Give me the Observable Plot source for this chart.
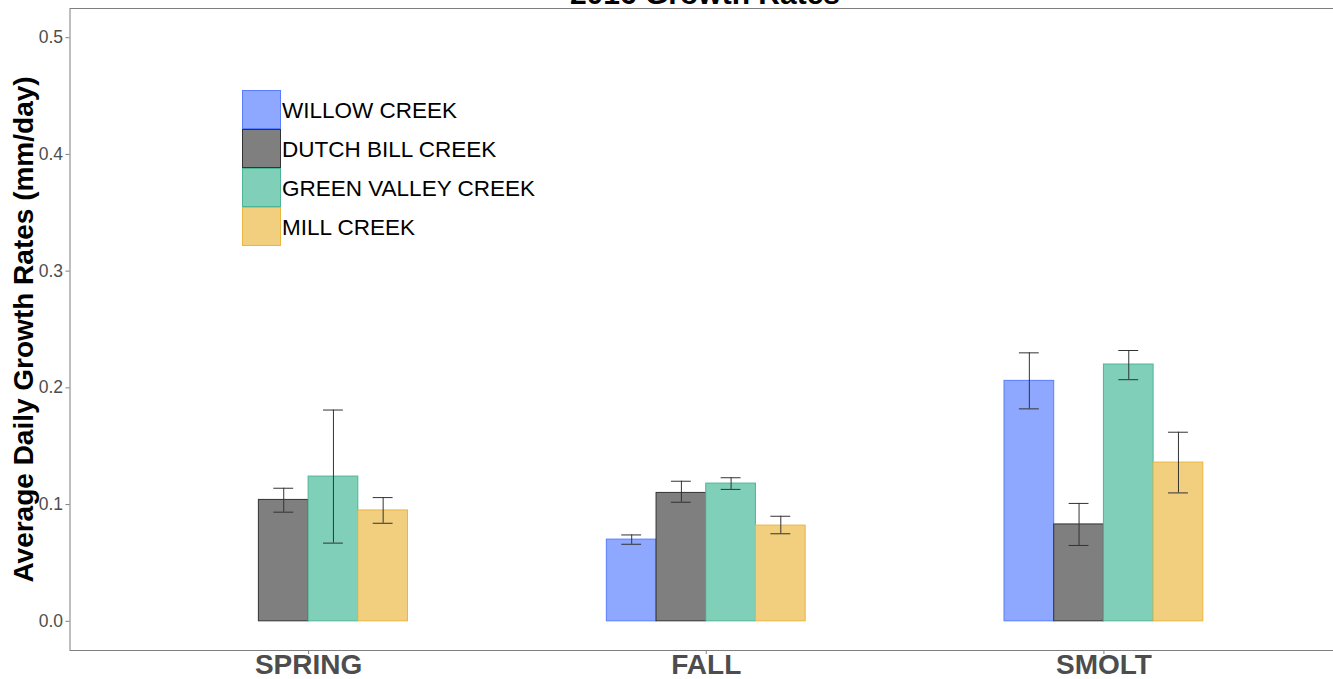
<!DOCTYPE html>
<html>
<head>
<meta charset="utf-8">
<script src="https://cdn.jsdelivr.net/npm/d3@7"></script>
<script src="https://cdn.jsdelivr.net/npm/@observablehq/plot@0.6"></script>
<style>
  html, body { margin: 0; padding: 0; background: white; overflow: hidden; }
  #wrap { position: relative; width: 1333px; height: 679px; overflow: hidden; font-family: 'Liberation Sans', Arial, sans-serif; }
  #wrap svg { max-width: none !important; position: absolute; left: 0; top: 0; }
  #title { position: absolute; left: 405px; width: 600px; top: -21px; line-height: 1; text-align: center; font-size: 30px; font-weight: bold; color: black; }
  #legend { position: absolute; left: 242px; top: 90px; }
  .row { display: flex; align-items: center; height: 39px; }
  .sw { width: 39px; height: 39px; box-sizing: border-box; border: 1px solid; flex: none; }
  .lab { margin-left: 1px; font-size: 22.5px; color: black; line-height: 39px; position: relative; top: 1px; }
</style>
</head>
<body>
<div id="wrap"></div>
<script>
// ---- data ----
const chartTitle = "2016 Growth Rates";
const yTitle = "Average Daily Growth Rates (mm/day)";
const seasons = ["SPRING", "FALL", "SMOLT"];
const creeks = ["WILLOW CREEK", "DUTCH BILL CREEK", "GREEN VALLEY CREEK", "MILL CREEK"];
const yTicks = [0, 0.1, 0.2, 0.3, 0.4, 0.5];

// means by season (SPRING, FALL, SMOLT)
const willowMean = [null, 0.070, 0.206];
const dutchMean  = [0.104, 0.110, 0.083];
const greenMean  = [0.124, 0.118, 0.220];
const millMean   = [0.095, 0.082, 0.136];

// error bar ends
const willowLo = [null, 0.066, 0.182];
const willowHi = [null, 0.074, 0.230];
const dutchLo  = [0.0935, 0.102, 0.065];
const dutchHi  = [0.114, 0.120, 0.101];
const greenLo  = [0.067, 0.113, 0.207];
const greenHi  = [0.181, 0.123, 0.232];
const millLo   = [0.084, 0.075, 0.110];
const millHi   = [0.106, 0.090, 0.162];

// ---- styles ----
const creekFill   = ["#8fa8ff", "#7f7f7f", "#80cfb9", "#f1cf7e"];
const creekStroke = ["#5a7dff", "#333333", "#4db596", "#ecb53c"];
const groupWidth = 0.5;   // dodge group width in category units (as ggplot width)
const capWidth = 0.05;    // error-bar cap width in category units

const means = [willowMean, dutchMean, greenMean, millMean];
const los = [willowLo, dutchLo, greenLo, millLo];
const his = [willowHi, dutchHi, greenHi, millHi];

const rows = [];
creeks.forEach((c, ci) => {
  seasons.forEach((s, si) => {
    if (means[ci][si] != null) {
      rows.push({season: s, creek: c, si: si + 1, ci, mean: means[ci][si], lo: los[ci][si], hi: his[ci][si]});
    }
  });
});

// position_dodge: each creek gets one slot of the season group
const slot = groupWidth / creeks.length;
const left = d => d.si - groupWidth / 2 + d.ci * slot;
const right = d => left(d) + slot;
const mid = d => left(d) + slot / 2;

const chart = Plot.plot({
  width: 1346,
  height: 679,
  marginLeft: 69.5,
  marginRight: 4,
  marginTop: 8,
  marginBottom: 29,
  style: {fontFamily: "'Liberation Sans', Arial, sans-serif", background: "white"},
  x: {type: "linear", domain: [0.4, seasons.length + 0.6]},
  y: {domain: [-0.025, 0.525]},
  marks: [
    Plot.rectY(rows, {x1: left, x2: right, y1: () => 0, y2: "mean",
      fill: d => creekFill[d.ci], stroke: d => creekStroke[d.ci], strokeWidth: 1}),
    Plot.ruleX(rows, {x: mid, y1: "lo", y2: "hi", stroke: "#333", strokeWidth: 1}),
    Plot.ruleY(rows, {x1: d => mid(d) - capWidth / 2, x2: d => mid(d) + capWidth / 2, y: "hi", stroke: "#333", strokeWidth: 1}),
    Plot.ruleY(rows, {x1: d => mid(d) - capWidth / 2, x2: d => mid(d) + capWidth / 2, y: "lo", stroke: "#333", strokeWidth: 1}),
    Plot.frame({stroke: "#7f7f7f"}),
    Plot.axisY({ticks: yTicks, tickFormat: d3.format(".1f"), tickSize: 4, tickPadding: 3, fontSize: 17.5, fill: "#4d4d4d", stroke: "#7f7f7f", label: null}),
    Plot.axisY({ticks: [], label: yTitle, labelArrow: "none", labelAnchor: "center", labelOffset: 56.5, fontSize: 28, fontWeight: "bold", fill: "black"}),
    Plot.axisX({ticks: seasons.map((s, i) => i + 1), tickFormat: i => seasons[i - 1], tickSize: 4, tickPadding: 0, fontSize: 28, fontWeight: "bold", fill: "#4d4d4d", stroke: "#7f7f7f", label: null})
  ]
});

const wrap = document.getElementById("wrap");
wrap.appendChild(chart);

const t = document.createElement("div");
t.id = "title";
t.textContent = chartTitle;
wrap.appendChild(t);

const lg = document.createElement("div");
lg.id = "legend";
creeks.forEach((c, i) => {
  const r = document.createElement("div");
  r.className = "row";
  const sw = document.createElement("div");
  sw.className = "sw";
  sw.style.background = creekFill[i];
  sw.style.borderColor = creekStroke[i];
  const lab = document.createElement("span");
  lab.className = "lab";
  lab.textContent = c;
  r.appendChild(sw);
  r.appendChild(lab);
  lg.appendChild(r);
});
wrap.appendChild(lg);
</script>
</body>
</html>
